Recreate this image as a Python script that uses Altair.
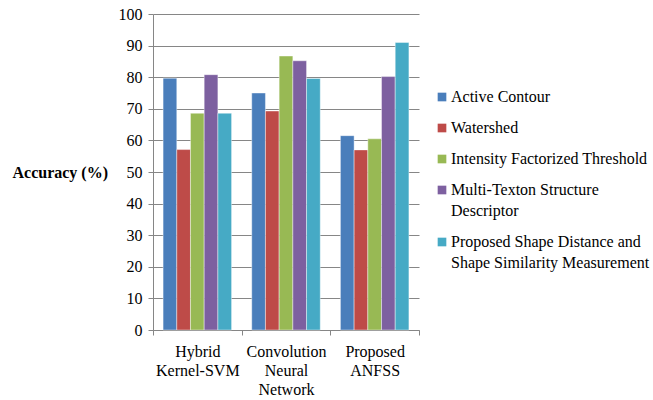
import altair as alt
import pandas as pd

groups = ["Hybrid Kernel-SVM", "Convolution Neural Network", "Proposed ANFSS"]
methods = [
    "Active Contour",
    "Watershed",
    "Intensity Factorized Threshold",
    "Multi-Texton Structure Descriptor",
    "Proposed Shape Distance and Shape Similarity Measurement",
]
active_contour = [79.7, 75.0, 61.5]
watershed = [57.1, 69.3, 57.0]
intensity_ft = [68.6, 86.7, 60.5]
multi_texton = [80.8, 85.2, 80.2]
proposed_sdssm = [68.6, 79.6, 91.0]
colors = ["#4A7EBB", "#BE4B48", "#98B954", "#7D60A0", "#46AAC5"]

series = [active_contour, watershed, intensity_ft, multi_texton, proposed_sdssm]
rows = []
for m, vals in zip(methods, series):
    for g, v in zip(groups, vals):
        rows.append({"group": g, "method": m, "accuracy": v})
df = pd.DataFrame(rows)

FONT = "Liberation Serif, Times New Roman, Times, DejaVu Serif, serif"
FS = 16

x_label_expr = (
    "datum.label == 'Hybrid Kernel-SVM' ? ['Hybrid', 'Kernel-SVM'] : "
    "datum.label == 'Convolution Neural Network' ? ['Convolution', 'Neural', 'Network'] : "
    "datum.label == 'Proposed ANFSS' ? ['Proposed', 'ANFSS'] : ''"
)
legend_label_expr = (
    "datum.label == 'Multi-Texton Structure Descriptor' ? ['Multi-Texton Structure', 'Descriptor'] : "
    "datum.label == 'Proposed Shape Distance and Shape Similarity Measurement' ? "
    "['Proposed Shape Distance and', 'Shape Similarity Measurement'] : datum.label"
)

chart = (
    alt.Chart(df)
    .mark_bar(stroke="#ffffff", strokeWidth=0.6, strokeOpacity=0.7)
    .encode(
        x=alt.X(
            "group:N",
            sort=groups,
            scale=alt.Scale(paddingInner=0, paddingOuter=0),
            axis=alt.Axis(
                title=None,
                labelAngle=0,
                labelExpr=x_label_expr,
                labelFont=FONT,
                labelFontSize=FS,
                labelColor="#000000",
                labelLineHeight=19.3,
                labelPadding=8,
                labelBaseline="top",
                tickBand="extent",
                tickSize=5,
                tickColor="#868686",
                domainColor="#868686",
                grid=False,
            ),
        ),
        xOffset=alt.XOffset(
            "method:N",
            sort=methods,
            scale=alt.Scale(paddingInner=0, paddingOuter=0.736),
        ),
        y=alt.Y(
            "accuracy:Q",
            scale=alt.Scale(domain=[0, 100], nice=False),
            axis=alt.Axis(
                values=list(range(0, 101, 10)),
                title="Accuracy (%)",
                titleAngle=0,
                titleFont=FONT,
                titleFontSize=FS,
                titleFontWeight="bold",
                titleColor="#000000",
                titleAlign="left",
                titleBaseline="middle",
                titleX=-141,
                titleY=158,
                labelFont=FONT,
                labelFontSize=FS,
                labelColor="#000000",
                labelPadding=6,
                tickSize=5,
                tickColor="#868686",
                domainColor="#868686",
                gridColor="#868686",
                gridWidth=1,
            ),
        ),
        color=alt.Color(
            "method:N",
            sort=methods,
            scale=alt.Scale(domain=methods, range=colors),
            legend=alt.Legend(
                title=None,
                orient="none",
                legendX=281,
                legendY=75,
                symbolType="square",
                symbolSize=75,
                symbolStrokeWidth=0,
                labelFont=FONT,
                labelFontSize=FS,
                labelColor="#000000",
                labelOffset=1,
                labelLimit=300,
                rowPadding=15,
                labelExpr=legend_label_expr,
            ),
        ),
    )
    .properties(
        width=266,
        height=316,
        autosize=alt.AutoSizeParams(type="none"),
        padding={"left": 153, "top": 14, "right": 234, "bottom": 70},
    )
    .configure(style={"guide-label": {"lineHeight": 20.5}})
    .configure_view(strokeWidth=0)
)

chart.save("out.html", embed_options={"renderer": "svg", "actions": False})
